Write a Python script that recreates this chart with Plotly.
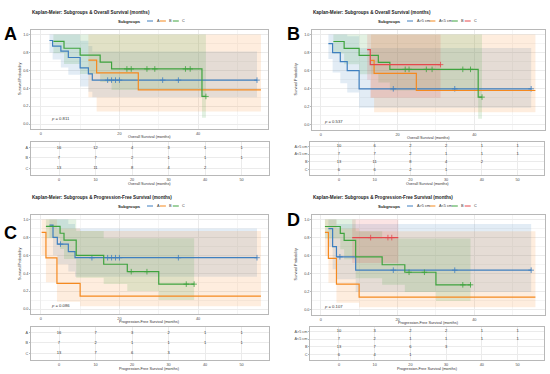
import plotly.graph_objects as go

W, H = 550, 374
FONT = "Liberation Sans, Arial, sans-serif"
BLUE, ORANGE, GREEN, RED = "#3F7FBF", "#F5891F", "#3EA33E", "#E5484D"

# ---------------- Data ----------------
risk_times = [0, 10, 20, 30, 40, 50]

# Panel A: Overall survival, subgroups A / B / C
osA_A_time = [2.2, 3.0, 5.1, 7.0, 10.0, 12.1, 13.1]
osA_A_surv = [0.933, 0.870, 0.814, 0.743, 0.628, 0.561, 0.490]
osA_A_low = [0.80, 0.72, 0.63, 0.55, 0.42, 0.36, 0.30]
osA_A_up = [1.0, 1.0, 1.0, 1.0, 0.93, 0.87, 0.81]
osA_A_end = 55.0
osA_A_cens = [17.0, 18.0, 19.0, 20.0, 31.0, 35.0, 55.0]

osA_B_time = [12.1, 14.2, 24.8]
osA_B_surv = [0.714, 0.571, 0.381]
osA_B_low = [0.30, 0.14, 0.14]
osA_B_up = [1.0, 1.0, 1.0]
osA_B_end = 56.0
osA_B_cens = []

osA_C_time = [3.2, 5.9, 10.0, 15.1, 18.0, 41.0]
osA_C_surv = [0.923, 0.846, 0.769, 0.692, 0.615, 0.308]
osA_C_low = [0.79, 0.67, 0.56, 0.47, 0.38, 0.07]
osA_C_up = [1.0, 1.0, 1.0, 1.0, 1.0, 1.0]
osA_C_end = 42.0
osA_C_cens = [21.9, 23.0, 27.0, 29.0, 36.8, 38.0, 42.0]

riskA_A = [16, 12, 4, 3, 1, 1]
riskA_B = [7, 7, 2, 1, 1, 1]
riskA_C = [13, 11, 8, 4, 2, None]

# Panel B: Overall survival, subgroups A>5 cm / A<5 cm / B / C
osB_A5_time = [2.0, 3.1, 5.1, 6.9, 10.0]
osB_A5_surv = [0.9, 0.8, 0.7, 0.6, 0.4]
osB_A5_low = [0.73, 0.58, 0.46, 0.36, 0.19]
osB_A5_up = [1.0, 1.0, 1.0, 0.98, 0.85]
osB_A5_end = 54.8
osB_A5_cens = [18.9, 34.9, 54.8]

osB_Al_time = [13.1, 13.9, 24.9]
osB_Al_surv = [0.714, 0.571, 0.381]
osB_Al_low = [0.30, 0.14, 0.14]
osB_Al_up = [1.0, 1.0, 1.0]
osB_Al_end = 55.9
osB_Al_cens = []

osB_B_time = [3.3, 6.1, 10.0, 15.0, 18.0, 41.0]
osB_B_surv = [0.923, 0.846, 0.769, 0.692, 0.615, 0.308]
osB_B_low = [0.79, 0.67, 0.56, 0.47, 0.38, 0.07]
osB_B_up = [1.0, 1.0, 1.0, 1.0, 1.0, 1.0]
osB_B_end = 42.0
osB_B_cens = [22.0, 23.0, 27.5, 29.0, 37.0, 39.0, 42.0]

osB_C_time = [12.1, 12.9]
osB_C_surv = [0.833, 0.667]
osB_C_low = [0.50, 0.30]
osB_C_up = [1.0, 1.0]
osB_C_end = 31.2
osB_C_cens = [31.2]

riskB_A5 = [10, 6, 2, 2, 1, 1]
riskB_Al = [7, 7, 2, 1, 1, 1]
riskB_B = [13, 11, 8, 4, 2, None]
riskB_C = [6, 6, 2, 1, None, None]

# Panel C: Progression-free survival, subgroups A / B / C
pfsC_A_time = [2.2, 3.1, 4.2, 7.0, 8.7]
pfsC_A_surv = [0.9375, 0.80, 0.725, 0.64, 0.573]
pfsC_A_low = [0.80, 0.60, 0.50, 0.42, 0.36]
pfsC_A_up = [1.0, 1.0, 1.0, 0.95, 0.90]
pfsC_A_end = 55.0
pfsC_A_cens = [5.0, 13.0, 17.0, 18.0, 19.0, 20.0, 35.0, 55.0]

pfsC_B_time = [0.2, 1.3, 4.1, 10.0]
pfsC_B_surv = [0.857, 0.571, 0.286, 0.143]
pfsC_B_low = [0.60, 0.30, 0.08, 0.03]
pfsC_B_up = [1.0, 1.0, 0.90, 0.87]
pfsC_B_end = 56.0
pfsC_B_cens = []

pfsC_C_time = [1.3, 4.9, 5.9, 9.0, 16.0, 22.0, 30.0]
pfsC_C_surv = [0.923, 0.846, 0.769, 0.600, 0.500, 0.417, 0.278]
pfsC_C_low = [0.79, 0.67, 0.56, 0.35, 0.28, 0.20, 0.10]
pfsC_C_up = [1.0, 1.0, 1.0, 0.87, 0.79, 0.79, 0.79]
pfsC_C_end = 39.0
pfsC_C_cens = [23.0, 27.0, 37.0, 39.0]

riskC_A = [16, 7, 3, 2, 1, 1]
riskC_B = [7, 2, 1, 1, 1, 1]
riskC_C = [13, 7, 6, 3, None, None]

# Panel D: Progression-free survival, subgroups A>5 cm / A<5 cm / B / C
pfsD_A5_time = [2.0, 3.1, 4.1, 9.1]
pfsD_A5_surv = [0.9, 0.7, 0.588, 0.44]
pfsD_A5_low = [0.70, 0.45, 0.34, 0.20]
pfsD_A5_up = [1.0, 1.0, 0.95, 0.95]
pfsD_A5_end = 54.8
pfsD_A5_cens = [5.0, 18.9, 34.9, 54.8]

pfsD_Al_time = [1.1, 2.0, 4.1, 10.0]
pfsD_Al_surv = [0.857, 0.571, 0.286, 0.143]
pfsD_Al_low = [0.60, 0.30, 0.08, 0.03]
pfsD_Al_up = [1.0, 1.0, 0.90, 0.87]
pfsD_Al_end = 55.9
pfsD_Al_cens = []

pfsD_B_time = [1.1, 5.1, 6.1, 9.1, 16.0, 21.9, 30.0]
pfsD_B_surv = [0.923, 0.846, 0.769, 0.588, 0.500, 0.417, 0.278]
pfsD_B_low = [0.79, 0.67, 0.56, 0.35, 0.28, 0.20, 0.10]
pfsD_B_up = [1.0, 1.0, 1.0, 0.87, 0.79, 0.79, 0.79]
pfsD_B_end = 39.0
pfsD_B_cens = [23.0, 27.0, 37.0, 39.0]

pfsD_C_time = [8.2]
pfsD_C_surv = [0.8]
pfsD_C_low = [0.52]
pfsD_C_up = [1.0]
pfsD_C_end = 20.2
pfsD_C_cens = [13.0, 17.5, 18.5]

riskD_A5 = [10, 3, 2, 2, 1, 1]
riskD_Al = [7, 2, 1, 1, 1, 1]
riskD_B = [13, 7, 6, 3, None, None]
riskD_C = [6, 4, 1, None, None, None]

p_values = ["0.811", "0.537", "0.086", "0.107"]
TITLE_OS = "Kaplan-Meier: Subgroups & Overall Survival (months)"
TITLE_PFS = "Kaplan-Meier: Subgroups & Progression-Free Survival (months)"
XT_OS = "Overall Survival (months)"
XT_PFS = "Progression-Free Survival (months)"


def G(name, color, t, s, lo, up, end, cens, risk):
    return dict(name=name, color=color, t=t, s=s, lo=lo, up=up, end=end, cens=cens, risk=risk)


panels = [
    dict(letter="A", title=TITLE_OS, xt=XT_OS, p=p_values[0], col=0, row=0, pv=(2.2, 0.06), groups=[
        G("A", BLUE, osA_A_time, osA_A_surv, osA_A_low, osA_A_up, osA_A_end, osA_A_cens, riskA_A),
        G("B", ORANGE, osA_B_time, osA_B_surv, osA_B_low, osA_B_up, osA_B_end, osA_B_cens, riskA_B),
        G("C", GREEN, osA_C_time, osA_C_surv, osA_C_low, osA_C_up, osA_C_end, osA_C_cens, riskA_C)]),
    dict(letter="B", title=TITLE_OS, xt=XT_OS, p=p_values[1], col=1, row=0, pv=(0.3, 0.04), groups=[
        G("A>5 cm", BLUE, osB_A5_time, osB_A5_surv, osB_A5_low, osB_A5_up, osB_A5_end, osB_A5_cens, riskB_A5),
        G("A<5 cm", ORANGE, osB_Al_time, osB_Al_surv, osB_Al_low, osB_Al_up, osB_Al_end, osB_Al_cens, riskB_Al),
        G("B", GREEN, osB_B_time, osB_B_surv, osB_B_low, osB_B_up, osB_B_end, osB_B_cens, riskB_B),
        G("C", RED, osB_C_time, osB_C_surv, osB_C_low, osB_C_up, osB_C_end, osB_C_cens, riskB_C)]),
    dict(letter="C", title=TITLE_PFS, xt=XT_PFS, p=p_values[2], col=0, row=1, pv=(2.2, 0.04), groups=[
        G("A", BLUE, pfsC_A_time, pfsC_A_surv, pfsC_A_low, pfsC_A_up, pfsC_A_end, pfsC_A_cens, riskC_A),
        G("B", ORANGE, pfsC_B_time, pfsC_B_surv, pfsC_B_low, pfsC_B_up, pfsC_B_end, pfsC_B_cens, riskC_B),
        G("C", GREEN, pfsC_C_time, pfsC_C_surv, pfsC_C_low, pfsC_C_up, pfsC_C_end, pfsC_C_cens, riskC_C)]),
    dict(letter="D", title=TITLE_PFS, xt=XT_PFS, p=p_values[3], col=1, row=1, pv=(0.3, 0.04), groups=[
        G("A>5 cm", BLUE, pfsD_A5_time, pfsD_A5_surv, pfsD_A5_low, pfsD_A5_up, pfsD_A5_end, pfsD_A5_cens, riskD_A5),
        G("A<5 cm", ORANGE, pfsD_Al_time, pfsD_Al_surv, pfsD_Al_low, pfsD_Al_up, pfsD_Al_end, pfsD_Al_cens, riskD_Al),
        G("B", GREEN, pfsD_B_time, pfsD_B_surv, pfsD_B_low, pfsD_B_up, pfsD_B_end, pfsD_B_cens, riskD_B),
        G("C", RED, pfsD_C_time, pfsD_C_surv, pfsD_C_low, pfsD_C_up, pfsD_C_end, pfsD_C_cens, riskD_C)]),
]

# ---------------- Geometry (pixels) ----------------
COL = [
    dict(main_x=(31, 268), risk_x=(30.7, 269), mxr=[-2.5, 57.8], rxr=[-7.75, 57.5],
         title_x=30, leg_right=143, ytitle_x=20.7, letter_x=10),
    dict(main_x=(312, 545), risk_x=(310, 544), mxr=[-2.27, 58.4], rxr=[-8.1, 57.4],
         title_x=311, leg_right=403, ytitle_x=295.7, letter_x=293),
]
ROW = [dict(dy=0, letter_y=[34, 34]), dict(dy=185, letter_y=[233, 220])]


def fx(px):
    return px / W


def fy(py):
    return 1 - py / H


def rgba(h, a):
    h = h.lstrip("#")
    return "rgba(%d,%d,%d,%s)" % (int(h[0:2], 16), int(h[2:4], 16), int(h[4:6], 16), a)


def step(t, v, end):
    return list(t) + [end], list(v) + [v[-1]]


def value_at(t, v, c):
    out = v[0]
    for ti, vi in zip(t, v):
        if ti <= c:
            out = vi
    return out


def sfx(n):
    return "" if n == 1 else str(n)


fig = go.Figure()
annotations = []
shapes = []
layout_axes = {}

GRID = "#ebebeb"
MINOR = "#f5f5f5"
BORDER = "#b8b8b8"
TICKC = "#4d4d4d"

for i, p in enumerate(panels):
    col, row = COL[p["col"]], ROW[p["row"]]
    dy = row["dy"]
    nm, nr = 2 * i + 1, 2 * i + 2
    xm, ym = "x" + sfx(nm), "y" + sfx(nm)
    xr, yr = "x" + sfx(nr), "y" + sfx(nr)
    main_y = (30 + dy, (128.5 if p["col"] == 0 else 129.5) + dy)
    risk_y = (142 + dy, 174.5 + dy)
    ng = len(p["groups"])

    # ribbons
    for g in p["groups"]:
        x, lo = step(g["t"], g["lo"], g["end"])
        _, up = step(g["t"], g["up"], g["end"])
        fig.add_trace(go.Scatter(x=x, y=lo, mode="lines", line=dict(width=0, shape="hv"),
                                 xaxis=xm, yaxis=ym, showlegend=False, hoverinfo="skip"))
        fig.add_trace(go.Scatter(x=x, y=up, mode="lines", line=dict(width=0, shape="hv"),
                                 fill="tonexty", fillcolor=rgba(g["color"], 0.15),
                                 xaxis=xm, yaxis=ym, showlegend=False, hoverinfo="skip"))
    # curves
    for g in p["groups"]:
        x, s = step(g["t"], g["s"], g["end"])
        fig.add_trace(go.Scatter(x=x, y=s, mode="lines", name=g["name"],
                                 line=dict(color=g["color"], width=1.2, shape="hv"),
                                 xaxis=xm, yaxis=ym, showlegend=False))
        if g["cens"]:
            cy = [value_at(g["t"], g["s"], c) for c in g["cens"]]
            fig.add_trace(go.Scatter(x=g["cens"], y=cy, mode="markers",
                                     marker=dict(symbol="cross-thin", size=4,
                                                 line=dict(color=g["color"], width=0.8)),
                                     xaxis=xm, yaxis=ym, showlegend=False))
    # risk table numbers
    for k, g in enumerate(p["groups"]):
        rx = [t for t, v in zip(risk_times, g["risk"]) if v is not None]
        rv = [str(v) for v in g["risk"] if v is not None]
        fig.add_trace(go.Scatter(x=rx, y=[ng - 1 - k] * len(rx), mode="text", text=rv,
                                 textfont=dict(size=4, color="#333333", family=FONT),
                                 xaxis=xr, yaxis=yr, showlegend=False))

    common = dict(showline=True, mirror=True, linecolor=BORDER, linewidth=0.6,
                  zeroline=False, ticks="outside", ticklen=1, tickwidth=0.5, tickcolor=BORDER,
                  tickfont=dict(size=3.8, color=TICKC, family=FONT), gridcolor=GRID, gridwidth=0.5)
    layout_axes["xaxis" + sfx(nm)] = dict(common, domain=[fx(col["main_x"][0]), fx(col["main_x"][1])],
                                         range=col["mxr"], anchor=ym, tickvals=[0, 20, 40],
                                         minor=dict(tickvals=[10, 30, 50], showgrid=True, gridcolor=MINOR,
                                                    gridwidth=0.5, ticks=""))
    layout_axes["yaxis" + sfx(nm)] = dict(common, domain=[fy(main_y[1]), fy(main_y[0])],
                                         range=[-0.05, 1.05], anchor=xm,
                                         tickvals=[0, 0.2, 0.4, 0.6, 0.8, 1.0], tickformat=".1f",
                                         minor=dict(tickvals=[0.1, 0.3, 0.5, 0.7, 0.9], showgrid=True,
                                                    gridcolor=MINOR, gridwidth=0.5, ticks=""))
    layout_axes["xaxis" + sfx(nr)] = dict(common, domain=[fx(col["risk_x"][0]), fx(col["risk_x"][1])],
                                         range=col["rxr"], anchor=yr, tickvals=risk_times)
    layout_axes["yaxis" + sfx(nr)] = dict(common, domain=[fy(risk_y[1]), fy(risk_y[0])],
                                         range=[-0.6, ng - 0.45], anchor=xr,
                                         tickvals=list(range(ng)),
                                         ticktext=[g["name"] for g in p["groups"]][::-1])

    # texts
    annotations.append(dict(text="<b>%s</b>" % p["title"], x=fx(col["title_x"]), y=fy(12 + dy),
                            xref="paper", yref="paper", xanchor="left", yanchor="middle", showarrow=False,
                            font=dict(size=4.6, color="#222222", family=FONT)))
    annotations.append(dict(text="<b>%s</b>" % p["letter"], x=fx(col["letter_x"]),
                            y=fy(row["letter_y"][p["col"]]), xref="paper", yref="paper",
                            xanchor="center", yanchor="middle", showarrow=False,
                            font=dict(size=18, color="black", family=FONT)))
    annotations.append(dict(text="Survival Probability", x=fx(col["ytitle_x"]),
                            y=fy((main_y[0] + main_y[1]) / 2), xref="paper", yref="paper",
                            textangle=-90, xanchor="center", yanchor="middle", showarrow=False,
                            font=dict(size=3.8, color="#333333", family=FONT)))
    annotations.append(dict(text=p["xt"], x=fx((col["main_x"][0] + col["main_x"][1]) / 2),
                            y=fy(main_y[1] + 8.5), xref="paper", yref="paper", xanchor="center",
                            yanchor="middle", showarrow=False,
                            font=dict(size=3.8, color="#333333", family=FONT)))
    annotations.append(dict(text=p["xt"], x=fx((col["risk_x"][0] + col["risk_x"][1]) / 2),
                            y=fy(risk_y[1] + 9), xref="paper", yref="paper", xanchor="center",
                            yanchor="middle", showarrow=False,
                            font=dict(size=3.8, color="#333333", family=FONT)))
    annotations.append(dict(text="<i>p</i> = " + p["p"], x=p["pv"][0], y=p["pv"][1],
                            xref=xm, yref=ym, xanchor="left", yanchor="middle", showarrow=False,
                            font=dict(size=4.2, color="#333333", family=FONT)))
    # legend
    ly = fy(21 + dy)
    annotations.append(dict(text="<b>Subgroups</b>", x=fx(col["leg_right"]), y=ly, xref="paper",
                            yref="paper", xanchor="right", yanchor="middle", showarrow=False,
                            font=dict(size=4.2, color="#222222", family=FONT)))
    cur = col["leg_right"] + 4
    for g in p["groups"]:
        shapes.append(dict(type="line", xref="paper", yref="paper", x0=fx(cur), x1=fx(cur + 6),
                           y0=ly, y1=ly, line=dict(color=g["color"], width=1)))
        annotations.append(dict(text=g["name"], x=fx(cur + 7.5), y=ly, xref="paper", yref="paper",
                                xanchor="left", yanchor="middle", showarrow=False,
                                font=dict(size=3.8, color="#333333", family=FONT)))
        cur += 7.5 + 1.9 * len(g["name"]) + 3.5

fig.update_layout(width=W, height=H, margin=dict(l=0, r=0, t=0, b=0),
                  paper_bgcolor="white", plot_bgcolor="white", showlegend=False,
                  annotations=annotations, shapes=shapes, font=dict(family=FONT), **layout_axes)
fig.write_html("out.html", config={"displayModeBar": False},
               post_script="document.body.style.margin='0';")
